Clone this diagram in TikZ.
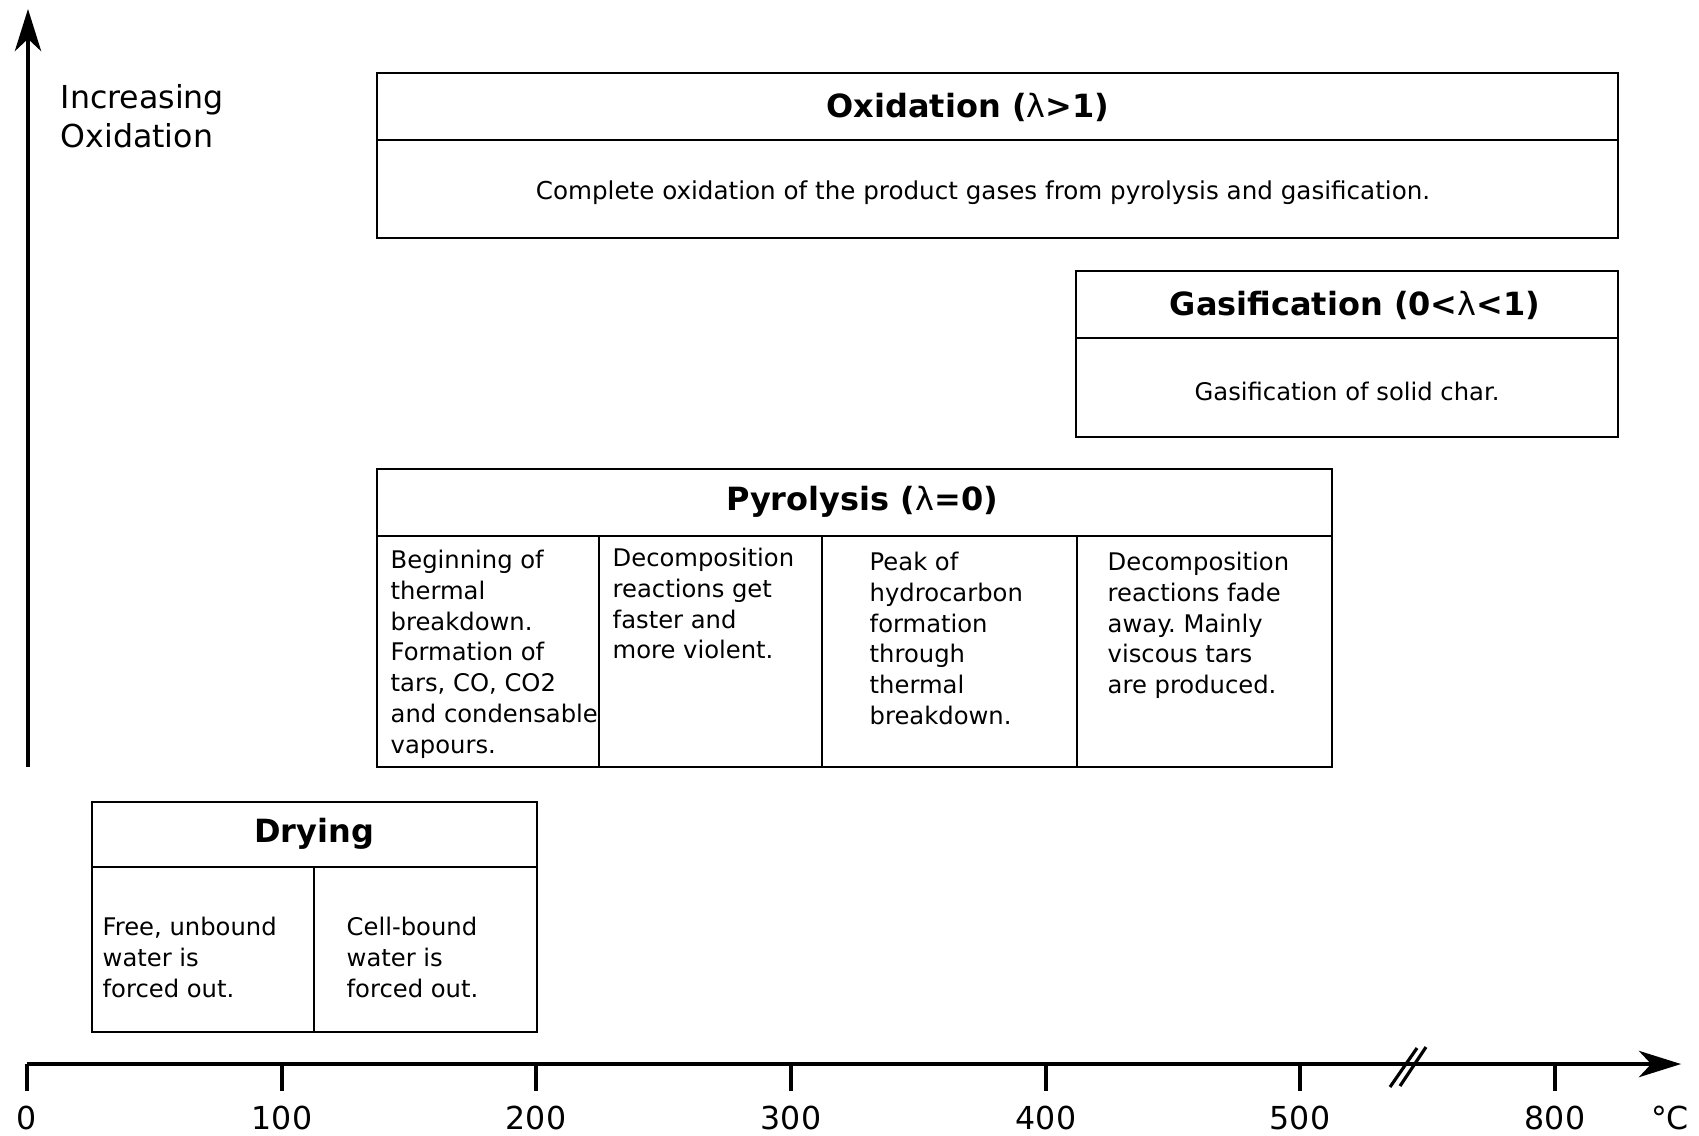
\documentclass[tikz,border=0pt]{standalone}
\usepackage{fontspec}
\setmainfont{DejaVu Sans}
\usetikzlibrary{arrows.meta}
\frenchspacing

\tikzset{
	box/.style={line width=0.7pt},
	axis/.style={line width=0.9pt},
	axistip/.style={-{Stealth[length=12pt,width=7.5pt,inset=3.5pt]}},
	head/.style={font=\fontsize{9.1}{11}\selectfont\bfseries, inner sep=0pt},
	body/.style={font=\fontsize{6.9}{8.8}\selectfont, align=left, inner sep=0pt, anchor=north west},
	ticklabel/.style={font=\fontsize{9}{11}\selectfont, inner sep=0pt},
}
\newcommand{\lam}{{\mdseries λ}}

\begin{document}
\begin{tikzpicture}[x=0.1mm, y=-0.1mm]
			%%%%% START %%%%%
			\useasboundingbox (0,0) rectangle (1699,1135);
			
			% axes
			\draw[axis, axistip] (28,767) -- (28,9);
			\draw[axis, axistip] (27,1064) -- (1681,1064);
			\node[body, font=\fontsize{9}{11.1}\selectfont] (yaxislabel) at (60,84) {Increasing\\Oxidation};
			
			\foreach \x/\t in {27/0, 282/100, 536/200, 791/300, 1046/400, 1300/500, 1555/800}{
				\draw[axis] (\x,1064) -- (\x,1091);
				\node[ticklabel] (tick\t) at (\x,1118) {\t};
			}
			\node[ticklabel] (unit) at (1670,1118) {°C};
			
			% axis break
			\draw[axis] (1390,1087) -- (1417,1048);
			\draw[axis] (1400,1086) -- (1426,1047);
			
			% oxidation
			\draw[box] (377,73) rectangle (1618,238);
			\draw[box] (377,140) -- (1618,140);
			\node[head] (oxihead) at (968,107) {Oxidation (\lam>1)};
			\node[body, anchor=center, font=\fontsize{7}{8.8}\selectfont] (oxitext) at (983,193) {Complete oxidation of the product gases from pyrolysis and gasification.};
			
			% gasification
			\draw[box] (1076,271) rectangle (1618,437);
			\draw[box] (1076,338) -- (1618,338);
			\node[head] (gashead) at (1355,305) {Gasification (0<\lam<1)};
			\node[body, anchor=center] (gastext) at (1347,391) {Gasification of solid char.};
			
			% pyrolysis
			\draw[box] (377,469) rectangle (1332,767);
			\draw[box] (377,536) -- (1332,536);
			\draw[box] (599,536) -- (599,767);
			\draw[box] (822,536) -- (822,767);
			\draw[box] (1077,536) -- (1077,767);
			\node[head] (pyrhead) at (862,502) {Pyrolysis (\lam=0)};
			\node[body] (pyrone) at (390,549) {Beginning of\\thermal\\breakdown.\\Formation of\\tars, CO, CO2\\and condensable\\vapours.};
			\node[body] (pyrtwo) at (612,547) {Decomposition\\reactions get\\faster and\\more violent.};
			\node[body] (pyrthree) at (869,551) {Peak of\\hydrocarbon\\formation\\through\\thermal\\breakdown.};
			\node[body] (pyrfour) at (1107,551) {Decomposition\\reactions fade\\away. Mainly\\viscous tars\\are produced.};
			
			% drying
			\draw[box] (92,802) rectangle (537,1032);
			\draw[box] (92,867) -- (537,867);
			\draw[box] (314,867) -- (314,1032);
			\node[head] (dryhead) at (314,834) {Drying};
			\node[body] (dryone) at (102,916) {Free, unbound\\water is\\forced out.};
			\node[body] (drytwo) at (346,916) {Cell-bound\\water is\\forced out.};
			
			%%%%% END %%%%%
		\end{tikzpicture}
\end{document}
